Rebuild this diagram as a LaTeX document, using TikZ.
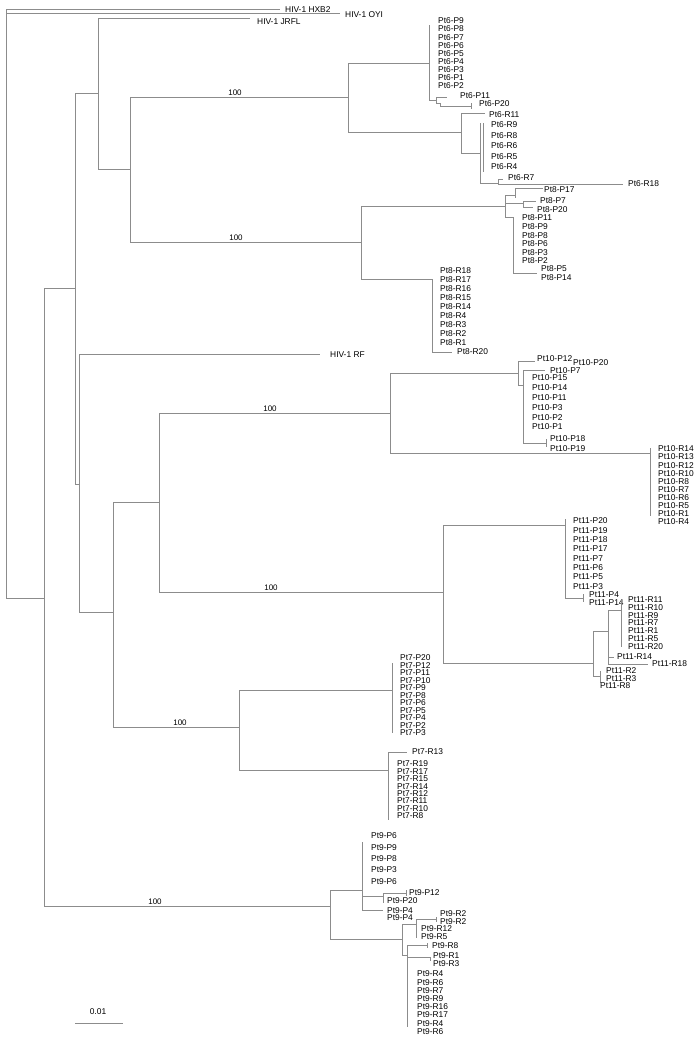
\documentclass[tikz,border=0pt]{standalone}
\usepackage{fontspec}
\setmainfont{Liberation Sans}
\begin{document}
\begin{tikzpicture}[x=1pt,y=-1pt,
  br/.style={draw=black!45, line width=0.55pt},
  lab/.style={anchor=west, inner sep=0pt, font=\fontsize{8.4}{9}\selectfont},
  bs/.style={anchor=south, inner sep=1pt, font=\fontsize{8}{9}\selectfont}]
\useasboundingbox (0,0) rectangle (698,1037);
% ---------- backbone ----------
\draw[br] (6,9) -- (280,9);
\node[lab] (hxb2) at (285,10) {HIV-1 HXB2};
\draw[br] (6,13) -- (340,13);
\node[lab] (oyi) at (345,15) {HIV-1 OYI};
\draw[br] (6,9) -- (6,598) -- (44,598);
\draw[br] (44,288) -- (44,906);
\draw[br] (44,288) -- (75,288);
\draw[br] (75,93) -- (75,484);
\draw[br] (75,93) -- (98,93);
\draw[br] (98,18) -- (98,169);
\draw[br] (98,18) -- (250,18);
\node[lab] (jrfl) at (257,22) {HIV-1 JRFL};
\draw[br] (98,169) -- (130,169);
\draw[br] (130,97) -- (130,242);
\draw[br] (130,97) -- (348,97);
\node[bs] (b6) at (235,97) {100};
\draw[br] (130,242) -- (361,242);
\node[bs] (b8) at (236,242) {100};
% ---------- Pt6 ----------
\draw[br] (348,63) -- (348,132);
\draw[br] (348,63) -- (429,63);
\draw[br] (429,25) -- (429,100) -- (436,100);
\draw[br] (436,97) -- (436,103);
\draw[br] (436,97) -- (447,97);
\draw[br] (436,103) -- (440,103) -- (440,106) -- (471,106);
\draw[br] (471,103) -- (471,109);
\foreach \t [count=\i] in {Pt6-P9,Pt6-P8,Pt6-P7,Pt6-P6,Pt6-P5,Pt6-P4,Pt6-P3,Pt6-P1,Pt6-P2}
  \node[lab] at (438,{21+8.1*(\i-1)}) {\t};
\node[lab] at (460,96) {Pt6-P11};
\node[lab] at (479,104) {Pt6-P20};
\draw[br] (348,132) -- (461,132);
\draw[br] (461,113) -- (461,153);
\draw[br] (461,113) -- (485,113);
\node[lab] at (489,115) {Pt6-R11};
\draw[br] (461,153) -- (480,153);
\draw[br] (480,123) -- (480,183) -- (498,183);
\draw[br] (483,123) -- (483,172);
\draw[br] (498,179) -- (498,184);
\draw[br] (498,179) -- (503,179);
\draw[br] (498,184) -- (623,184);
\foreach \t [count=\i] in {Pt6-R9,Pt6-R8,Pt6-R6,Pt6-R5,Pt6-R4}
  \node[lab] at (491,{125+10.5*(\i-1)}) {\t};
\node[lab] at (508,178) {Pt6-R7};
\node[lab] at (628,184) {Pt6-R18};
% ---------- Pt8 ----------
\draw[br] (361,206) -- (361,279);
\draw[br] (361,206) -- (505,206);
\draw[br] (505,195) -- (505,217);
\draw[br] (505,195) -- (515,195);
\draw[br] (515,188) -- (515,198);
\draw[br] (515,188) -- (543,188);
\draw[br] (505,203) -- (523,203);
\draw[br] (523,201) -- (523,207);
\draw[br] (523,201) -- (536,201);
\draw[br] (523,207) -- (533,207);
\draw[br] (505,217) -- (513,217) -- (513,273) -- (537,273);
\node[lab] at (544,190) {Pt8-P17};
\node[lab] at (540,201) {Pt8-P7};
\node[lab] at (537,210) {Pt8-P20};
\foreach \t [count=\i] in {Pt8-P11,Pt8-P9,Pt8-P8,Pt8-P6,Pt8-P3,Pt8-P2}
  \node[lab] at (522,{218+8.6*(\i-1)}) {\t};
\node[lab] at (541,269) {Pt8-P5};
\node[lab] at (541,278) {Pt8-P14};
\draw[br] (361,279) -- (432,279) -- (432,352) -- (452,352);
\foreach \t [count=\i] in {Pt8-R18,Pt8-R17,Pt8-R16,Pt8-R15,Pt8-R14,Pt8-R4,Pt8-R3,Pt8-R2,Pt8-R1}
  \node[lab] at (440,{271+9*(\i-1)}) {\t};
\node[lab] at (457,352) {Pt8-R20};
% ---------- RF and lower backbone ----------
\draw[br] (75,484) -- (79,484);
\draw[br] (79,354) -- (79,612);
\draw[br] (79,354) -- (320,354);
\node[lab] (rf) at (330,355) {HIV-1 RF};
\draw[br] (79,612) -- (113,612);
\draw[br] (113,502) -- (113,727);
\draw[br] (113,502) -- (159,502);
\draw[br] (159,413) -- (159,592);
% ---------- Pt10 ----------
\draw[br] (159,413) -- (390,413);
\node[bs] (b10) at (270,413) {100};
\draw[br] (390,373) -- (390,453);
\draw[br] (390,373) -- (518,373);
\draw[br] (518,361) -- (518,385);
\draw[br] (518,361) -- (535,361);
\draw[br] (518,385) -- (523,385);
\draw[br] (523,370) -- (523,443);
\draw[br] (523,370) -- (545,370);
\draw[br] (523,443) -- (546,443);
\draw[br] (546,439) -- (546,447);
\node[lab] at (537,359) {Pt10-P12};
\node[lab] at (573,363) {Pt10-P20};
\node[lab] at (550,371) {Pt10-P7};
\foreach \t [count=\i] in {Pt10-P15,Pt10-P14,Pt10-P11,Pt10-P3,Pt10-P2,Pt10-P1}
  \node[lab] at (532,{378+9.8*(\i-1)}) {\t};
\node[lab] at (550,439) {Pt10-P18};
\node[lab] at (550,449) {Pt10-P19};
\draw[br] (390,453) -- (650,453);
\draw[br] (650,448) -- (650,516);
\foreach \t [count=\i] in {Pt10-R14,Pt10-R13,Pt10-R12,Pt10-R10,Pt10-R8,Pt10-R7,Pt10-R6,Pt10-R5,Pt10-R1,Pt10-R4}
  \node[lab] at (658,{449+8.1*(\i-1)}) {\t};
% ---------- Pt11 ----------
\draw[br] (159,592) -- (443,592);
\node[bs] (b11) at (271,592) {100};
\draw[br] (443,525) -- (443,663);
\draw[br] (443,525) -- (565,525);
\draw[br] (565,519) -- (565,598) -- (583,598);
\draw[br] (583,594) -- (583,602);
\foreach \t [count=\i] in {Pt11-P20,Pt11-P19,Pt11-P18,Pt11-P17,Pt11-P7,Pt11-P6,Pt11-P5,Pt11-P3}
  \node[lab] at (573,{521+9.3*(\i-1)}) {\t};
\node[lab] at (589,595) {Pt11-P4};
\node[lab] at (589,603) {Pt11-P14};
\draw[br] (443,663) -- (593,663);
\draw[br] (593,631) -- (593,676);
\draw[br] (593,631) -- (608,631);
\draw[br] (608,610) -- (608,664);
\draw[br] (608,610) -- (621,610);
\draw[br] (621,600) -- (621,647);
\foreach \t [count=\i] in {Pt11-R11,Pt11-R10,Pt11-R9,Pt11-R7,Pt11-R1,Pt11-R5,Pt11-R20}
  \node[lab] at (628,{600+7.7*(\i-1)}) {\t};
\draw[br] (608,657) -- (614,657);
\node[lab] at (617,657) {Pt11-R14};
\draw[br] (608,664) -- (648,664);
\node[lab] at (652,664) {Pt11-R18};
\draw[br] (593,676) -- (600,676);
\draw[br] (600,671) -- (600,683);
\node[lab] at (606,671) {Pt11-R2};
\node[lab] at (606,679) {Pt11-R3};
\node[lab] at (600,686) {Pt11-R8};
% ---------- Pt7 ----------
\draw[br] (113,727) -- (239,727);
\node[bs] (b7) at (180,727) {100};
\draw[br] (239,690) -- (239,770);
\draw[br] (239,690) -- (392,690);
\draw[br] (392,663) -- (392,733);
\foreach \t [count=\i] in {Pt7-P20,Pt7-P12,Pt7-P11,Pt7-P10,Pt7-P9,Pt7-P8,Pt7-P6,Pt7-P5,Pt7-P4,Pt7-P2,Pt7-P3}
  \node[lab] at (400,{658+7.5*(\i-1)}) {\t};
\draw[br] (239,770) -- (388,770);
\draw[br] (388,752) -- (388,820);
\draw[br] (388,752) -- (407,752);
\node[lab] at (412,752) {Pt7-R13};
\foreach \t [count=\i] in {Pt7-R19,Pt7-R17,Pt7-R15,Pt7-R14,Pt7-R12,Pt7-R11,Pt7-R10,Pt7-R8}
  \node[lab] at (397,{764+7.4*(\i-1)}) {\t};
% ---------- Pt9 ----------
\draw[br] (44,906) -- (330,906);
\node[bs] (b9) at (155,906) {100};
\draw[br] (330,890) -- (330,939);
\draw[br] (330,890) -- (362,890);
\draw[br] (362,842) -- (362,910);
\foreach \t [count=\i] in {Pt9-P6,Pt9-P9,Pt9-P8,Pt9-P3,Pt9-P6}
  \node[lab] at (371,{836+11.3*(\i-1)}) {\t};
\draw[br] (362,896) -- (383,896);
\draw[br] (383,893) -- (383,903);
\draw[br] (383,893) -- (406,893);
\draw[br] (406,890) -- (406,896);
\node[lab] at (409,893) {Pt9-P12};
\node[lab] at (387,901) {Pt9-P20};
\draw[br] (362,910) -- (383,910);
\node[lab] at (387,911) {Pt9-P4};
\node[lab] at (387,918) {Pt9-P4};
\draw[br] (330,939) -- (402,939);
\draw[br] (402,924) -- (402,955);
\draw[br] (402,924) -- (416,924);
\draw[br] (416,919) -- (416,938);
\draw[br] (416,919) -- (436,919);
\draw[br] (436,917) -- (436,922);
\node[lab] at (440,914) {Pt9-R2};
\node[lab] at (440,922) {Pt9-R2};
\node[lab] at (421,929) {Pt9-R12};
\node[lab] at (421,937) {Pt9-R5};
\draw[br] (402,955) -- (407,955);
\draw[br] (407,945) -- (407,1027);
\draw[br] (407,945) -- (427,945);
\draw[br] (427,943) -- (427,948);
\node[lab] at (432,946) {Pt9-R8};
\draw[br] (407,957) -- (430,957);
\draw[br] (430,957) -- (430,961);
\node[lab] at (433,956) {Pt9-R1};
\node[lab] at (433,964) {Pt9-R3};
\foreach \t [count=\i] in {Pt9-R4,Pt9-R6,Pt9-R7,Pt9-R9,Pt9-R16,Pt9-R17,Pt9-R4,Pt9-R6}
  \node[lab] at (417,{974+8.2*(\i-1)}) {\t};
% ---------- scale bar ----------
\node[lab, anchor=center] (sc) at (98,1012) {0.01};
\draw[br] (75,1023) -- (123,1023);
\end{tikzpicture}
\end{document}
